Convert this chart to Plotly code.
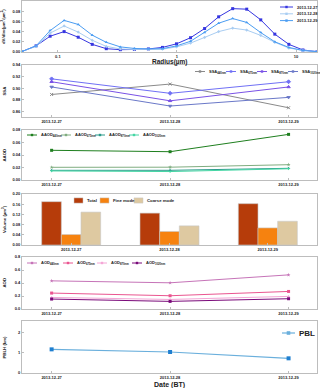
import plotly.graph_objects as go
from plotly.subplots import make_subplots

# size distribution (AERONET radius bins)
radius = [0.05, 0.0656, 0.0861, 0.1129, 0.1482, 0.1944, 0.2551, 0.3347, 0.4391, 0.5761, 0.7558,
          0.9917, 1.3011, 1.707, 2.2395, 2.9382, 3.8549, 5.0576, 6.6355, 8.7056, 11.4217, 15.0]
dv_1227 = [0.001, 0.012, 0.031, 0.040, 0.029, 0.015, 0.0065, 0.0045, 0.005, 0.006, 0.009,
           0.016, 0.028, 0.046, 0.069, 0.085, 0.084, 0.063, 0.035, 0.015, 0.004, 0.0007]
dv_1228 = [0.001, 0.011, 0.037, 0.051, 0.039, 0.023, 0.011, 0.006, 0.005, 0.005, 0.0055,
           0.010, 0.0175, 0.0286, 0.040, 0.0468, 0.043, 0.0325, 0.019, 0.0078, 0.003, 0.0007]
dv_1229 = [0.001, 0.012, 0.042, 0.062, 0.054, 0.033, 0.019, 0.010, 0.007, 0.006, 0.0065,
           0.012, 0.021, 0.038, 0.0565, 0.0656, 0.058, 0.038, 0.020, 0.009, 0.003, 0.0007]

dates = ["2013-12-27", "2013-12-28", "2013-12-29"]
day_idx = [0, 1, 2]

ssa_440 = [0.889, 0.907, 0.866]
ssa_675 = [0.916, 0.891, 0.911]
ssa_870 = [0.911, 0.878, 0.902]
ssa_1020 = [0.902, 0.869, 0.884]

aaod_440 = [0.0475, 0.0453, 0.073]
aaod_675 = [0.0203, 0.0205, 0.0245]
aaod_870 = [0.0155, 0.0155, 0.0187]
aaod_1020 = [0.0145, 0.0135, 0.018]

vol_total = [0.170, 0.125, 0.162]
vol_fine = [0.041, 0.053, 0.067]
vol_coarse = [0.129, 0.075, 0.093]

aod_440 = [0.433, 0.403, 0.525]
aod_675 = [0.245, 0.204, 0.27]
aod_870 = [0.178, 0.147, 0.194]
aod_1020 = [0.153, 0.117, 0.158]

pbl = [1.16, 1.03, 0.72]

W, H = 320, 388
FONT = "Liberation Sans"
TXT = "#222222"


def ydom(top, bot):
    return [1 - bot / H, 1 - top / H]


def small_font(size=4):
    return dict(size=size, family=FONT, color=TXT, weight="bold")


fig = make_subplots(rows=6, cols=1)
legend_items = []  # (x_px, y_px, label, color, kind, line_len, font size)

# panel 1: size distribution
p1 = [("2013-12-27", dv_1227, "#3636e0", "square", 3),
      ("2013-12-28", dv_1228, "#a9cdf2", "diamond", 2.5),
      ("2013-12-29", dv_1229, "#4b9df2", "triangle-up", 3)]
for k, (name, vals, col, sym, ms) in enumerate(p1):
    fig.add_trace(go.Scatter(x=radius, y=vals, name=name, mode="lines+markers",
                             line=dict(color=col, width=1), marker=dict(symbol=sym, size=ms, color=col)),
                  row=1, col=1)
    legend_items.append((280, 7 + 6.8 * k, name, col, "line", 13, 4))

# panel 2: SSA
p2 = [("SSA<sub>440nm</sub>", ssa_440, "#8a8a8a", "x-thin"),
      ("SSA<sub>675nm</sub>", ssa_675, "#7070f5", "diamond"),
      ("SSA<sub>870nm</sub>", ssa_870, "#7a52e6", "triangle-up"),
      ("SSA<sub>1020nm</sub>", ssa_1020, "#6a78c8", "triangle-down")]
for k, (name, vals, col, sym) in enumerate(p2):
    fig.add_trace(go.Scatter(x=day_idx, y=vals, name=name, mode="lines+markers",
                             line=dict(color=col, width=1),
                             marker=dict(symbol=sym, size=3, color=col, line=dict(color=col, width=1))),
                  row=2, col=1)
    legend_items.append((195 + 31 * k, 71.5, name, col, "line", 10, 4))

# panel 3: AAOD
p3 = [("AAOD<sub>440nm</sub>", aaod_440, "#1f7f1f", "square"),
      ("AAOD<sub>675nm</sub>", aaod_675, "#80ad80", "star"),
      ("AAOD<sub>870nm</sub>", aaod_870, "#2a9a8a", "triangle-up"),
      ("AAOD<sub>1020nm</sub>", aaod_1020, "#45d6a4", "triangle-down")]
for k, (name, vals, col, sym) in enumerate(p3):
    fig.add_trace(go.Scatter(x=day_idx, y=vals, name=name, mode="lines+markers",
                             line=dict(color=col, width=1), marker=dict(symbol=sym, size=3, color=col)),
                  row=3, col=1)
    legend_items.append((27 + 34 * k, 135, name, col, "line", 10, 4))

# panel 4: volume
p4 = [("Total", vol_total, "#b63c0a", 74),
      ("Fine mode", vol_fine, "#f6820f", 100),
      ("Coarse mode", vol_coarse, "#dec9a1", 134)]
for name, vals, col, lx in p4:
    fig.add_trace(go.Bar(x=dates, y=vals, name=name,
                         marker=dict(color=col, line=dict(color="#c8c8c8", width=0.6))),
                  row=4, col=1)
    legend_items.append((lx, 200.5, name, col, "box", 9, 4.3))

# panel 5: AOD
p5 = [("AOD<sub>440nm</sub>", aod_440, "#c674b8", "star", 27),
      ("AOD<sub>675nm</sub>", aod_675, "#ea5590", "square", 63),
      ("AOD<sub>870nm</sub>", aod_870, "#f4a6d6", "triangle-up", 97),
      ("AOD<sub>1020nm</sub>", aod_1020, "#7a0a7a", "square", 132)]
for name, vals, col, sym, lx in p5:
    fig.add_trace(go.Scatter(x=day_idx, y=vals, name=name, mode="lines+markers",
                             line=dict(color=col, width=1), marker=dict(symbol=sym, size=3, color=col)),
                  row=5, col=1)
    legend_items.append((lx, 263, name, col, "line", 10, 4))

# panel 6: PBL
fig.add_trace(go.Scatter(x=day_idx, y=pbl, name="PBL", mode="lines+markers",
                         line=dict(color="#6aafdc", width=1.2),
                         marker=dict(symbol="square", size=4, color="#1f7fd0")),
              row=6, col=1)
legend_items.append((282, 333, "PBL", "#6aafdc", "line", 13, 8))

axis_common = dict(showline=True, linecolor="#bdbdbd", linewidth=1, mirror=True, showgrid=False,
                   zeroline=False, ticks="inside", ticklen=2, tickcolor="#bdbdbd",
                   tickfont=small_font(4))

panels = [(1, 52), (65, 117), (130, 180), (194, 245), (257, 309), (321, 373)]
xdom = [22 / W, 317 / W]
for i, (t, b) in enumerate(panels, start=1):
    fig.update_xaxes(domain=xdom, **axis_common, row=i, col=1)
    fig.update_yaxes(domain=ydom(t, b), **axis_common, row=i, col=1)

fig.update_xaxes(type="log", range=[-1.30103, 1.17609], tickvals=[0.1, 1, 10],
                 ticktext=["0.1", "1", "10"], row=1, col=1)
fig.update_yaxes(range=[0, 0.1], tickvals=[0, 0.02, 0.04, 0.06, 0.08, 0.10], tickformat=".2f", row=1, col=1)

for r in (2, 3, 5, 6):
    fig.update_xaxes(range=[-0.25, 2.24], tickvals=day_idx, ticktext=dates, row=r, col=1)
fig.update_xaxes(type="category", range=[-0.5, 2.5], row=4, col=1)

fig.update_yaxes(range=[0.85, 0.94], tickvals=[0.86, 0.88, 0.90, 0.92, 0.94], tickformat=".2f", row=2, col=1)
fig.update_yaxes(range=[0, 0.08], tickvals=[0, 0.02, 0.04, 0.06, 0.08], tickformat=".2f", row=3, col=1)
fig.update_yaxes(range=[0, 0.2], tickvals=[0, 0.04, 0.08, 0.12, 0.16, 0.20], tickformat=".2f", row=4, col=1)
fig.update_yaxes(range=[0, 0.8], tickvals=[0, 0.2, 0.4, 0.6, 0.8], tickformat=".1f", row=5, col=1)
fig.update_yaxes(range=[0, 2.55], tickvals=[0, 1, 2], row=6, col=1)

fig.update_layout(
    width=W, height=H, margin=dict(l=0, r=0, t=0, b=0, autoexpand=False), showlegend=False,
    plot_bgcolor="white", paper_bgcolor="white", barmode="group", bargap=0.4, bargroupgap=0,
)

# hand-drawn legends (plotly legend rows are too tall for this size)
for lx, ly, label, col, kind, ln, fs in legend_items:
    yy = 1 - ly / H
    if kind == "line":
        fig.add_shape(type="line", xref="paper", yref="paper", x0=lx / W, x1=(lx + ln) / W, y0=yy, y1=yy,
                      line=dict(color=col, width=1.2 if fs > 5 else 1))
        m = 1.2 if fs < 5 else 1.8
        cx = lx + ln / 2
        fig.add_shape(type="rect", xref="paper", yref="paper", x0=(cx - m) / W, x1=(cx + m) / W,
                      y0=yy - m / H, y1=yy + m / H, line=dict(width=0), fillcolor=col)
    else:
        fig.add_shape(type="rect", xref="paper", yref="paper", x0=lx / W, x1=(lx + ln) / W,
                      y0=yy - 2.6 / H, y1=yy + 2.6 / H, line=dict(color="#c8c8c8", width=0.5), fillcolor=col)
    fig.add_annotation(text=label, x=(lx + ln + 1.5) / W, y=yy, xref="paper", yref="paper",
                       showarrow=False, xanchor="left", yanchor="middle", font=small_font(fs))

ytitles = [("dV/dlnr(µm<sup>3</sup>/µm<sup>2</sup>)", panels[0]),
           ("SSA", panels[1]), ("AAOD", panels[2]),
           ("Volume (µm<sup>3</sup>)", panels[3]), ("AOD", panels[4]), ("PBLH (km)", panels[5])]
for text, (t, b) in ytitles:
    fig.add_annotation(text=text, x=3.5 / W, y=1 - (t + b) / 2 / H, xref="paper", yref="paper",
                       textangle=-90, showarrow=False, xanchor="center", yanchor="middle",
                       font=small_font(4.3))

fig.add_annotation(text="Radius(µm)", x=(22 + 317) / 2 / W, y=1 - 61.5 / H, xref="paper", yref="paper",
                   showarrow=False, xanchor="center", yanchor="middle", font=small_font(6.5))
fig.add_annotation(text="Date (BT)", x=(22 + 317) / 2 / W, y=1 - 384.5 / H, xref="paper", yref="paper",
                   showarrow=False, xanchor="center", yanchor="middle", font=small_font(7))

# the page body has a default 8px margin; remove it so the figure sits at the window corner
fig.write_html("out.html", config={"displayModeBar": False},
               post_script="document.body.style.margin='0';document.body.style.padding='0';")
